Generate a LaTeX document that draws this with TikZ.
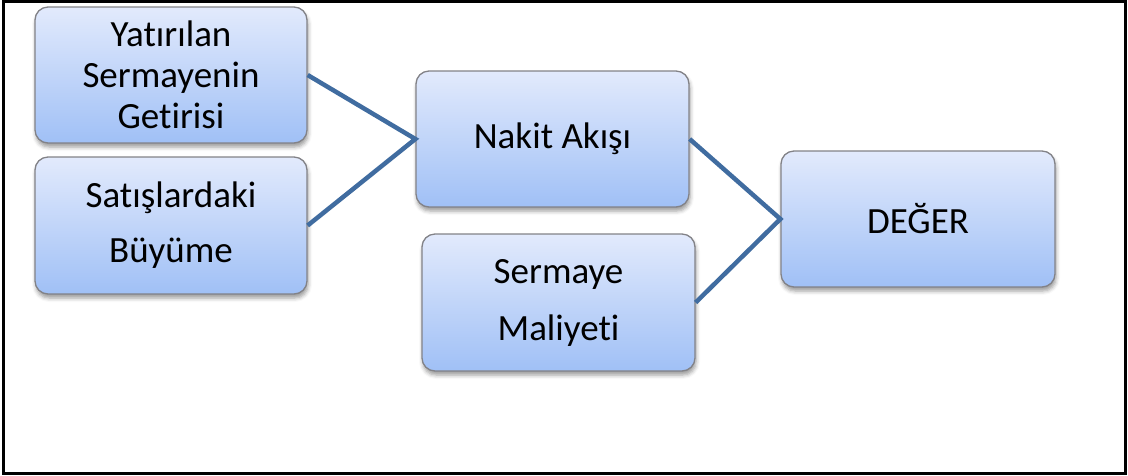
\documentclass[tikz,border=0pt]{standalone}
\usepackage{fontspec}
\setmainfont{Carlito}[Ligatures={NoCommon,NoRare,NoContextual}]
\usetikzlibrary{shadows.blur}
\definecolor{boxtop}{RGB}{226,234,252}
\definecolor{boxbot}{RGB}{160,192,246}
\definecolor{boxedge}{RGB}{130,130,135}
\definecolor{linkcol}{RGB}{64,108,160}
\tikzset{
  box/.style={draw=boxedge, line width=1.3pt, rounded corners=13pt,
    top color=boxtop, bottom color=boxbot, align=center, inner sep=0pt,
    blur shadow={shadow xshift=1pt, shadow yshift=-4pt, shadow blur radius=4pt, shadow opacity=40}},
  link/.style={draw=linkcol, line width=4.5pt}
}
\begin{document}
\begin{tikzpicture}[x=1pt,y=-1pt]
\useasboundingbox (0,0) rectangle (1128,475);
\draw[line width=3pt] (3,1.5) rectangle (1125.5,473.5);
\node[box, minimum width=272pt, minimum height=136pt, font=\fontsize{37}{41}\selectfont] (yat) at (171,75) {Yatırılan\\Sermayenin\\Getirisi};
\node[box, minimum width=272pt, minimum height=137pt, font=\fontsize{37}{55}\selectfont] (sat) at (171,225.5) {Satışlardaki\\Büyüme};
\node[box, minimum width=273pt, minimum height=136pt, font=\fontsize{37}{44}\selectfont] (nak) at (552.5,139) {Nakit Akışı};
\node[box, minimum width=273pt, minimum height=137pt, font=\fontsize{37}{57}\selectfont] (ser) at (558.5,302.5) {Sermaye\\Maliyeti};
\node[box, minimum width=274pt, minimum height=136pt, font=\fontsize{37}{44}\selectfont] (deg) at (918,219) {DEĞER};
\draw[link] (yat.east) -- (nak.west) -- (sat.east);
\draw[link] (nak.east) -- (deg.west) -- (ser.east);
\end{tikzpicture}
\end{document}
